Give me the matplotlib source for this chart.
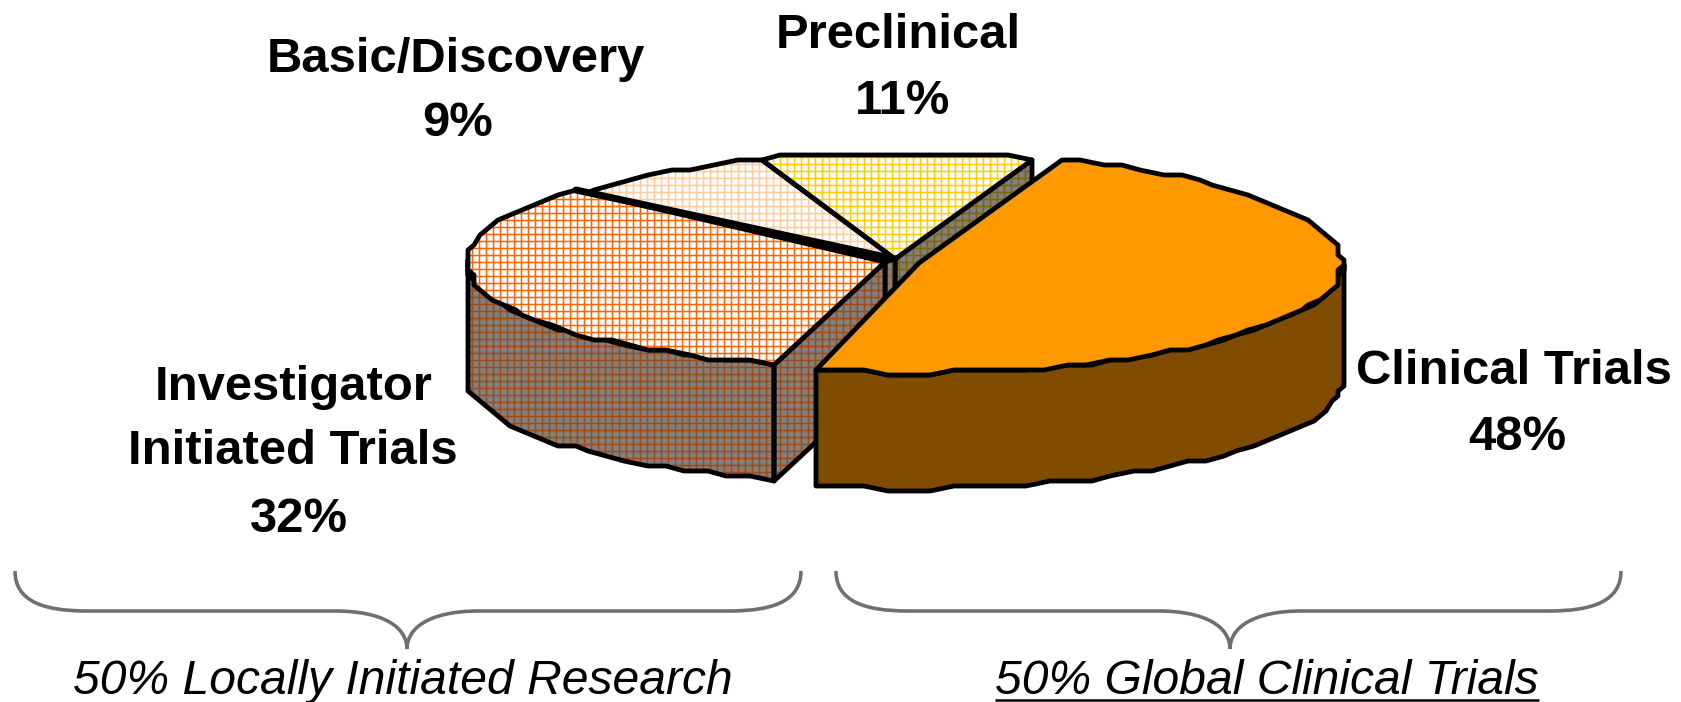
import numpy as np
import matplotlib
matplotlib.use("Agg")
import matplotlib.pyplot as plt
from matplotlib.patches import PathPatch, Polygon
from matplotlib.path import Path

# slice shares in percent, going counter-clockwise from the preclinical edge
categories = ["Preclinical", "Basic/Discovery", "Investigator\nInitiated Trials", "Clinical Trials"]
shares = [11, 9, 32, 48]
group_labels = ["50% Locally Initiated Research", "50% Global Clinical Trials"]

DPI = 84
W, H = 1681, 702
DEPTH = 116
START = 70.0
plt.rcParams["font.family"] = ["Liberation Sans", "DejaVu Sans"]
plt.rcParams["hatch.linewidth"] = 1.3


def px(size):
    return size * 72 / DPI


def rim(cx, cy, a, b, t0, t1):
    # stepped outline, the coarse vector look of an old office chart
    n = max(int(abs(t1 - t0) / 3), 2)
    t = np.radians(np.linspace(t0, t1, n))
    x = np.round((cx + a * np.cos(t)) / 6) * 6
    y = np.round((cy - b * np.sin(t)) / 5) * 5
    return np.column_stack([x, y])


def face(ax, pts, fc, hatch_color=None, z=1, lw=4.8):
    pts = np.asarray(pts)
    if hatch_color:
        ax.add_patch(Polygon(pts, closed=True, facecolor=fc, edgecolor=hatch_color,
                             hatch="++", lw=0, zorder=z))
    else:
        ax.add_patch(Polygon(pts, closed=True, facecolor=fc, edgecolor="none", zorder=z))
    ax.add_patch(Polygon(pts, closed=True, fill=False, edgecolor="black", lw=px(lw),
                         joinstyle="round", zorder=z + 0.1))


def down(pts):
    return np.asarray(pts) + [0, DEPTH]


def brace(ax, x0, x1, tip):
    top, flat, low = 571, 611, 649
    verts = [(x0, top), (x0, top + 30), (x0 + 28, flat), (x0 + 72, flat),
             (tip - 72, flat), (tip - 24, flat), (tip, low - 22), (tip, low),
             (tip, low - 22), (tip + 24, flat), (tip + 72, flat),
             (x1 - 72, flat), (x1 - 28, flat), (x1, top + 30), (x1, top)]
    codes = [Path.MOVETO, Path.CURVE4, Path.CURVE4, Path.CURVE4, Path.LINETO,
             Path.CURVE4, Path.CURVE4, Path.CURVE4, Path.CURVE4, Path.CURVE4, Path.CURVE4,
             Path.LINETO, Path.CURVE4, Path.CURVE4, Path.CURVE4]
    ax.add_patch(PathPatch(Path(verts, codes), fill=False, edgecolor="#6E6E76", lw=px(3.6)))


fig = plt.figure(figsize=(W / DPI, H / DPI), dpi=DPI, facecolor="white")
ax = fig.add_axes([0, 0, 1, 1])
ax.set_xlim(0, W)
ax.set_ylim(H, 0)
ax.axis("off")

# slice boundaries follow from the shares
spans = np.array(shares) * 3.6
edges = START + np.concatenate([[0], np.cumsum(spans)])

back = np.array([895, 259])
inv_c = np.array([885, 262])
clin_c = np.array([919, 263])

pre_rim = rim(back[0], back[1], 400, 106, edges[0], edges[1])
bas_rim = rim(back[0], back[1], 400, 106, edges[1], edges[2])
inv_rim = rim(892, 262, 425, 106, edges[2] - 3.5, edges[3] - 3.5)
clin_rim = rim(912, 263, 430, 110, edges[3] - 360, edges[4] - 360)

# cut faces behind the front slices
face(ax, [back, pre_rim[0], down(pre_rim[0]), down(back)], "#808080", "#806600", z=1)
face(ax, [inv_c, back, down(back), down(inv_c)], "#808080", "#A8661E", z=1.5)

# top faces of the back slices
face(ax, [back, *pre_rim], "white", "#FFCC00", z=2)
face(ax, [back, *bas_rim], "white", "#FFCC99", z=2)

# investigator slice: outer wall, cut face, then top
inv_wall = rim(892, 262, 425, 106, 180, edges[3] - 3.5)
face(ax, [*inv_wall, *down(inv_wall)[::-1]], "#808080", "#A04A14", z=3)
face(ax, [inv_c, inv_rim[-1], down(inv_rim[-1]), down(inv_c)], "#808080", "#A04A14", z=3)
face(ax, [inv_c, *inv_rim], "white", "#FF6600", z=4)
ax.plot([inv_rim[0][0], back[0]], [inv_rim[0][1], back[1]], color="black", lw=px(7),
        solid_capstyle="round", zorder=4.5)

# clinical trials slice in solid colour, pulled forward on top of the rest
clin_wall = rim(912, 263, 430, 110, edges[3] - 360, 0)
face(ax, [*clin_wall, *down(clin_wall)[::-1]], "#7F4C00", z=5)
face(ax, [clin_c, *clin_rim], "#FF9900", z=6)

# slice labels
label_style = dict(ha="center", va="center", fontsize=px(49), fontweight="bold", color="black")
ax.text(456, 59, categories[1], **label_style)
ax.text(458, 124, f"{shares[1]}%", **label_style)
ax.text(898, 35, categories[0], **label_style)
ax.text(903, 102, f"{shares[0]}%", **label_style)
ax.text(1514, 372, categories[3], **label_style)
ax.text(1517, 437, f"{shares[3]}%", **label_style)
ax.text(294, 387, categories[2].split("\n")[0], **label_style)
ax.text(293, 451, categories[2].split("\n")[1], **label_style)
ax.text(299, 520, f"{shares[2]}%", **label_style)

# group braces and their captions
brace(ax, 15, 801, 407)
brace(ax, 836, 1621, 1230)
cap_style = dict(ha="center", va="center", fontsize=px(48), style="italic", color="black")
ax.text(403, 682, group_labels[0], **cap_style)
right_cap = ax.text(1267, 682, group_labels[1], **cap_style)

fig.canvas.draw()
box = right_cap.get_window_extent()
ax.plot([box.x0, box.x1], [700, 700], color="black", lw=px(2.5), solid_capstyle="butt")

fig.savefig("out.png", dpi=DPI)
plt.close(fig)
